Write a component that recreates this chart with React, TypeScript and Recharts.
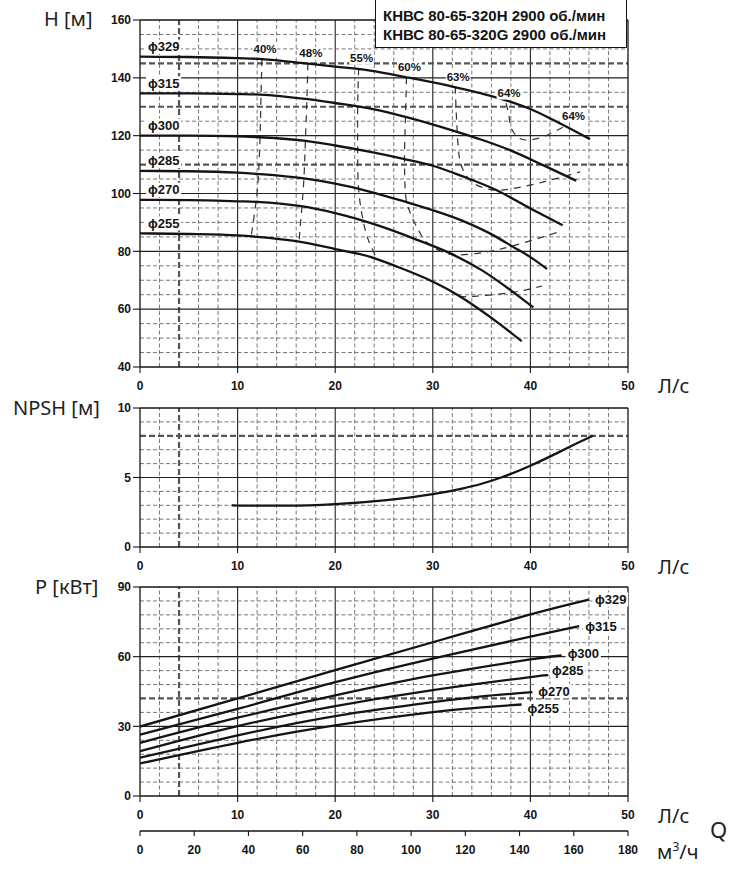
import React from 'react'
import { LineChart, Line, XAxis, YAxis, ReferenceLine, ReferenceDot } from 'recharts'

// flow Q in l/s, head H in m
const head329 = [[0, 147.3], [5, 147.2], [10, 146.8], [12.5, 146.5], [17, 145], [20, 143.9], [23.6, 142.5], [27.3, 140.2], [32, 137], [35, 134.6], [38, 131.7], [40, 129.2], [42.7, 124.8], [46.1, 118.8]]
const head315 = [[0, 134.6], [5, 134.6], [10, 134.4], [12.3, 134.2], [17.2, 132.6], [20, 131.3], [24, 129.1], [27.3, 126.4], [32.4, 121.4], [35, 118.6], [37.9, 115], [41.3, 109.8], [44.7, 104.4]]
const head300 = [[0, 120], [5, 120], [10, 119.8], [12, 119.5], [17, 118.2], [20, 116.6], [23.6, 114.4], [27, 112], [30, 109.6], [33, 106], [36.5, 101.2], [40, 94.8], [43.3, 89]]
const head285 = [[0, 107.8], [5, 107.7], [10, 107.2], [12.2, 106.7], [16.8, 105.2], [20, 103.4], [23.6, 100.6], [27.3, 97], [30, 94.2], [33, 90.6], [36.5, 85], [38.2, 81.6], [40, 78], [41.7, 73.9]]
const head270 = [[0, 97.8], [5, 97.7], [10, 97.3], [12, 97.1], [16.5, 95.6], [20, 93.2], [24.6, 88.7], [28, 84.5], [31.8, 79.3], [35, 73.5], [38.2, 66], [40.3, 60.6]]
const head255 = [[0, 86.2], [5, 86], [10, 85.5], [12, 85], [16, 83.5], [20, 80.8], [23.6, 78.1], [26.5, 74.5], [29.7, 70], [32.5, 65], [34.8, 59.9], [37, 54.5], [39.1, 48.9]]

// iso-efficiency lines
const eff40 = [[12.5, 146.5], [12.4, 134.3], [12.3, 119.6], [12.15, 107], [11.9, 97.4], [11.4, 85.5]]
const eff48 = [[17.2, 145], [17.1, 132.6], [16.95, 118.5], [16.8, 105.5], [16.6, 95.8], [16.3, 83.8]]
const eff55 = [[22.4, 143.3], [22.3, 129], [22.3, 114.8], [22.4, 101.5], [22.9, 90], [23.5, 83], [24.2, 78.2]]
const eff55b = [[32.7, 64.3], [34.5, 64.5], [37, 65.3], [39, 66.3], [41.2, 68]]
const eff60 = [[27.3, 140.2], [27.2, 126.3], [27.1, 112.5], [27.2, 100], [27.5, 95], [28, 90.8], [28.7, 86.3], [29.5, 82.7], [31.4, 79.3], [33.8, 79], [37.2, 81], [41.3, 85], [43.2, 87]]
const eff63 = [[32.3, 137], [32.4, 128], [32.5, 121.4], [32.7, 113], [33.2, 107.5], [34.3, 103.3], [36.3, 101.2], [38.2, 101.7], [40.5, 103.3], [43, 105.5], [45.1, 107.5]]
const eff64 = [[37.5, 131.2], [37.8, 127], [38, 123], [38.6, 119.8], [39.5, 118.5], [41.3, 119.6], [43.6, 123.4]]

// NPSH in m
const npsh = [[9.4, 3.0], [12, 2.97], [15, 2.97], [20, 3.08], [25, 3.35], [30, 3.8], [33, 4.2], [35, 4.55], [37, 5.0], [40, 5.85], [42, 6.5], [44, 7.2], [46.4, 8.0]]

// shaft power P in kW
const power329 = [[0, 29.9], [10, 42], [20, 54.2], [30, 66.2], [40, 78.2], [46, 84.6]]
const power315 = [[0, 26.4], [10, 37.5], [20, 49], [30, 59.2], [40, 68.6], [45, 73.1]]
const power300 = [[0, 22.9], [10, 33.7], [20, 43.3], [30, 51.9], [40, 58.8], [43.2, 60.5]]
const power285 = [[0, 19.3], [10, 30.1], [20, 38.7], [30, 45.6], [40, 51.2], [41.6, 51.9]]
const power270 = [[0, 16.5], [10, 26.1], [20, 34.4], [30, 40.4], [35, 42.9], [40.2, 44.7]]
const power255 = [[0, 14], [10, 22.9], [20, 30.4], [30, 36.1], [35, 38.2], [39.1, 39.4]]

const diameters = ['ϕ329', 'ϕ315', 'ϕ300', 'ϕ285', 'ϕ270', 'ϕ255']
const headCurves = [head329, head315, head300, head285, head270, head255]
const powerCurves = [power329, power315, power300, power285, power270, power255]
const effCurves = [eff40, eff48, eff55, eff55b, eff60, eff63, eff64]
const effNames = ['40%', '48%', '55%', '', '60%', '63%', '64%']

const qTicks = [0, 10, 20, 30, 40, 50]
const m3Ticks = [0, 20, 40, 60, 80, 100, 120, 140, 160, 180]
const headTicks = [40, 60, 80, 100, 120, 140, 160]
const npshTicks = [0, 5, 10]
const powerTicks = [0, 30, 60, 90]

const FONT = '"Liberation Sans", Arial, sans-serif'
const TITLE_FONT = '"Noto Sans", "Open Sans", sans-serif'
const INK = '#141414'

const toPts = (rows: number[][]) => rows.map(([q, v]) => ({ q, v }))

// power label nudges (px)
const powerLabelDy = [0, 0, -2, -5, -1, 4]

function gridLines(id: string, yMin: number, yMax: number, step: number, major: number, heavy: number[]) {
  const out: React.ReactNode[] = []
  for (let q = 2; q < 50; q += 2) {
    const isMajor = q % 10 === 0
    const isHeavy = q === 4
    out.push(
      <ReferenceLine
        key={`${id}-x${q}`}
        x={q}
        stroke={isMajor ? '#222' : '#555'}
        strokeWidth={isHeavy ? 2.2 : isMajor ? 1.1 : 0.8}
        strokeDasharray={isMajor ? undefined : isHeavy ? '6 3' : '4 2.5'}
      />
    )
  }
  const n = Math.round((yMax - yMin) / step)
  for (let i = 1; i < n; i++) {
    const v = yMin + i * step
    const isMajor = v % major === 0
    const isHeavy = heavy.includes(v)
    out.push(
      <ReferenceLine
        key={`${id}-y${v}`}
        y={v}
        stroke={isMajor ? '#222' : '#555'}
        strokeWidth={isHeavy ? 2.2 : isMajor ? 1.1 : 0.8}
        strokeDasharray={isMajor ? undefined : isHeavy ? '6 3' : '4 2.5'}
      />
    )
  }
  out.push(<ReferenceLine key={`${id}-top`} y={yMax} stroke={INK} strokeWidth={1.3} />)
  out.push(<ReferenceLine key={`${id}-right`} x={50} stroke={INK} strokeWidth={1.3} />)
  return out
}

const tag = (text: string, dx: number, dy: number, anchor: 'start' | 'middle', size: number) =>
  (props: any) => {
    const { cx, cy } = props
    const w = text.length * size * 0.6
    const x = cx + dx
    const left = anchor === 'start' ? x - 2 : x - w / 2 - 2
    return (
      <g>
        <rect x={left} y={cy + dy - size * 0.55} width={w + 4} height={size * 1.1} fill="#fff" />
        <text x={x} y={cy + dy} dy="0.35em" textAnchor={anchor} fontFamily={FONT} fontWeight={700} fontSize={size} fill={INK}>
          {text}
        </text>
      </g>
    )
  }

const tickStyle = { fontSize: 12, fontWeight: 700, fill: INK, fontFamily: FONT }
const axisLine = { stroke: INK, strokeWidth: 1.3 }
const tickLine = { stroke: INK, strokeWidth: 1.1 }

const xAxisProps = {
  type: 'number' as const,
  dataKey: 'q',
  domain: [0, 50],
  ticks: qTicks,
  interval: 0 as const,
  allowDataOverflow: true,
  tickSize: 6,
  tickMargin: 8,
  tick: tickStyle,
  axisLine,
  tickLine,
}

const yAxisProps = {
  type: 'number' as const,
  width: 140,
  interval: 0 as const,
  allowDataOverflow: true,
  tickSize: 7,
  tickMargin: 2,
  tick: tickStyle,
  axisLine,
  tickLine,
}

const unit = (text: React.ReactNode, left: number, centerY: number, size = 20) => (
  <div
    style={{
      position: 'absolute',
      left,
      top: centerY - 14,
      lineHeight: '28px',
      fontSize: size,
      fontFamily: TITLE_FONT,
      color: '#222',
      whiteSpace: 'nowrap',
    }}
  >
    {text}
  </div>
)

export default function App() {
  return (
    <div style={{ position: 'absolute', left: 0, top: 0, width: 738, height: 887, background: '#fff' }}>
      <div style={{ position: 'absolute', left: 0, top: 0 }}>
        <LineChart width={738} height={397} margin={{ top: 20, right: 110, left: 0, bottom: 0 }}>
          <XAxis {...xAxisProps} height={30} />
          <YAxis {...yAxisProps} domain={[40, 160]} ticks={headTicks} />
          {gridLines('h', 40, 160, 5, 20, [145, 130, 110])}
          {effCurves.map((c, i) => (
            <Line
              key={`e${i}`}
              data={toPts(c)}
              dataKey="v"
              type="natural"
              stroke="#333"
              strokeWidth={1.2}
              strokeDasharray="7 6"
              dot={false}
              activeDot={false}
              isAnimationActive={false}
            />
          ))}
          {headCurves.map((c, i) => (
            <Line
              key={`h${i}`}
              data={toPts(c)}
              dataKey="v"
              type="monotone"
              stroke={INK}
              strokeWidth={2.3}
              dot={false}
              activeDot={false}
              isAnimationActive={false}
            />
          ))}
          {headCurves.map((c, i) => (
            <ReferenceDot key={`hl${i}`} x={c[0][0]} y={c[0][1]} r={1} ifOverflow="visible" shape={tag(diameters[i], 8, -10, 'start', 13)} />
          ))}
          {effCurves.map((c, i) =>
            effNames[i] ? (
              <ReferenceDot key={`el${i}`} x={c[0][0]} y={c[0][1]} r={1} ifOverflow="visible" shape={tag(effNames[i], 3, -10, 'middle', 11.5)} />
            ) : null
          )}
          <ReferenceDot
            x={eff64[eff64.length - 1][0]}
            y={eff64[eff64.length - 1][1]}
            r={1}
            ifOverflow="visible"
            shape={tag('64%', 8, -10, 'middle', 11.5)}
          />
        </LineChart>
      </div>

      <div style={{ position: 'absolute', left: 0, top: 388 }}>
        <LineChart width={738} height={189} margin={{ top: 20, right: 110, left: 0, bottom: 0 }}>
          <XAxis {...xAxisProps} height={30} />
          <YAxis {...yAxisProps} domain={[0, 10]} ticks={npshTicks} />
          {gridLines('n', 0, 10, 1, 5, [8])}
          <Line
            data={toPts(npsh)}
            dataKey="v"
            type="monotone"
            stroke={INK}
            strokeWidth={2.3}
            dot={false}
            activeDot={false}
            isAnimationActive={false}
          />
        </LineChart>
      </div>

      <div style={{ position: 'absolute', left: 0, top: 567 }}>
        <LineChart width={738} height={294} margin={{ top: 20, right: 110, left: 0, bottom: 0 }}>
          <XAxis {...xAxisProps} height={35} />
          <XAxis
            xAxisId="m3"
            type="number"
            dataKey="q"
            domain={[0, 180]}
            ticks={m3Ticks}
            interval={0}
            allowDataOverflow
            height={30}
            tickSize={5}
            tickMargin={9}
            tick={tickStyle}
            axisLine={axisLine}
            tickLine={tickLine}
          />
          <YAxis {...yAxisProps} domain={[0, 90]} ticks={powerTicks} />
          {gridLines('p', 0, 90, 6, 30, [42])}
          {/* empty series that only gives the m3/h axis its scale */}
          <Line
            xAxisId="m3"
            data={m3Ticks.map((q) => ({ q }))}
            dataKey="v"
            stroke="none"
            dot={false}
            activeDot={false}
            legendType="none"
            isAnimationActive={false}
          />
          {powerCurves.map((c, i) => (
            <Line
              key={`p${i}`}
              data={toPts(c)}
              dataKey="v"
              type="natural"
              stroke={INK}
              strokeWidth={2.3}
              dot={false}
              activeDot={false}
              isAnimationActive={false}
            />
          ))}
          {powerCurves.map((c, i) => (
            <ReferenceDot
              key={`pl${i}`}
              x={c[c.length - 1][0]}
              y={c[c.length - 1][1]}
              r={1}
              ifOverflow="visible"
              shape={tag(diameters[i], 6, powerLabelDy[i], 'start', 13)}
            />
          ))}
        </LineChart>
      </div>

      <div
        style={{
          position: 'absolute',
          left: 375,
          top: 0,
          width: 252,
          height: 48,
          background: '#fff',
          borderLeft: `1.5px solid ${INK}`,
          borderRight: `1.5px solid ${INK}`,
          borderBottom: `1.5px solid ${INK}`,
          fontFamily: FONT,
          fontWeight: 700,
          fontSize: 15,
          color: INK,
          lineHeight: '19px',
          paddingTop: 6,
          paddingLeft: 7,
          boxSizing: 'border-box',
          whiteSpace: 'nowrap',
          zIndex: 2,
        }}
      >
        <div>КНВС 80-65-320H 2900 об./мин</div>
        <div>КНВС 80-65-320G 2900 об./мин</div>
      </div>

      {unit('H [м]', 44, 19)}
      {unit('NPSH [м]', 13, 408)}
      {unit('P [кВт]', 35, 587)}
      {unit('Л/с', 658, 386)}
      {unit('Л/с', 658, 567)}
      {unit('Л/с', 658, 816)}
      {unit('Q', 710, 829, 22)}
      {unit(<span>м<sup style={{ fontSize: 12, verticalAlign: 'super', lineHeight: 0 }}>3</sup>/ч</span>, 657, 852)}
    </div>
  )
}
